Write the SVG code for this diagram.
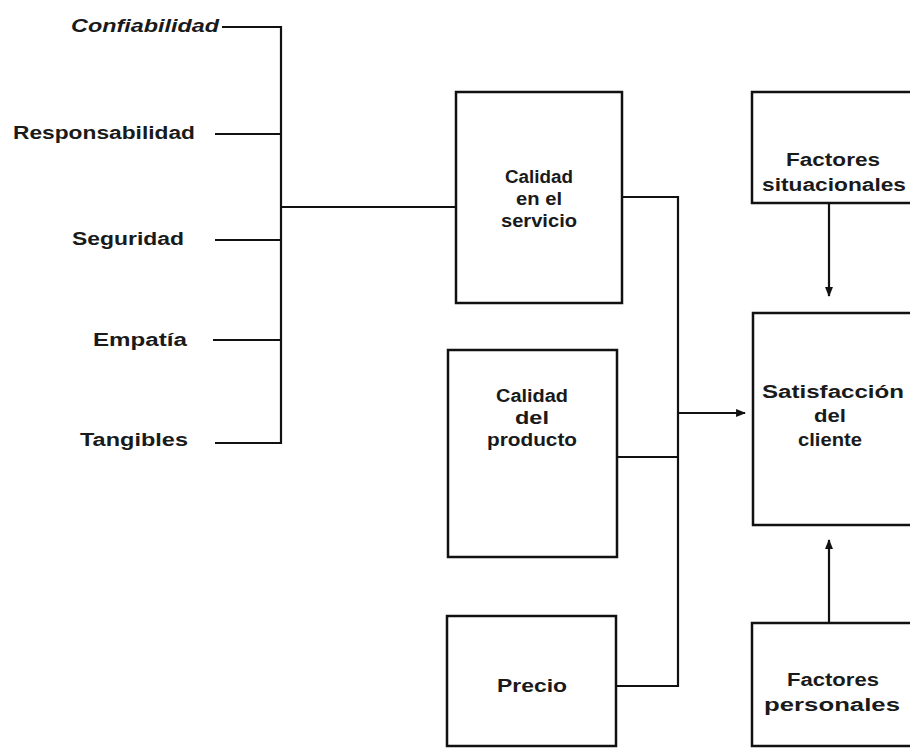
<svg xmlns="http://www.w3.org/2000/svg" width="910" height="754" viewBox="0 0 910 754">
<defs>
<style>
text{font-family:"Liberation Sans",Arial,sans-serif;font-size:18px;font-weight:bold;fill:#1a1a1a;}
.c{text-anchor:middle;}
.box{fill:#fff;stroke:#111;stroke-width:2.5;}
.ln{fill:none;stroke:#111;stroke-width:2.2;}
</style>
<marker id="ah" viewBox="0 0 10 10" refX="9" refY="5" markerWidth="4.5" markerHeight="4.5" orient="auto"><path d="M0,1 L10,5 L0,9 Z" fill="#111"/></marker>
</defs>
<rect width="910" height="754" fill="#fff"/>
<g id="connectors">
<path class="ln" d="M222,27 H281 V443 H215"/>
<path class="ln" d="M215,134 H281"/>
<path class="ln" d="M215,240 H281"/>
<path class="ln" d="M213,340 H281"/>
<path class="ln" d="M281,207 H456"/>
<path class="ln" d="M622,197 H678 V686 H616"/>
<path class="ln" d="M617,457 H678"/>
<path class="ln" d="M678,413 H745" marker-end="url(#ah)"/>
<path class="ln" d="M829,203 V296" marker-end="url(#ah)"/>
<path class="ln" d="M829,623 V540" marker-end="url(#ah)"/>
</g>
<g id="confiabilidad"><text x="145" y="32" class="c" font-style="italic" textLength="148" lengthAdjust="spacingAndGlyphs">Confiabilidad</text></g>
<g id="responsabilidad"><text x="104" y="139" class="c" textLength="182" lengthAdjust="spacingAndGlyphs">Responsabilidad</text></g>
<g id="seguridad"><text x="128" y="245" class="c" textLength="112" lengthAdjust="spacingAndGlyphs">Seguridad</text></g>
<g id="empatia"><text x="140" y="346" class="c" textLength="94" lengthAdjust="spacingAndGlyphs">Empatía</text></g>
<g id="tangibles"><text x="134" y="446" class="c" textLength="108" lengthAdjust="spacingAndGlyphs">Tangibles</text></g>
<g id="calidad-servicio"><rect class="box" x="456" y="92" width="166" height="211"/>
<text x="539" y="183" class="c" textLength="68" lengthAdjust="spacingAndGlyphs">Calidad</text><text x="539" y="205" class="c" textLength="46" lengthAdjust="spacingAndGlyphs">en el</text><text x="539" y="227" class="c" textLength="76" lengthAdjust="spacingAndGlyphs">servicio</text></g>
<g id="calidad-producto"><rect class="box" x="448" y="350" width="169" height="207"/>
<text x="532" y="402" class="c" textLength="72" lengthAdjust="spacingAndGlyphs">Calidad</text><text x="532" y="424" class="c" textLength="34" lengthAdjust="spacingAndGlyphs">del</text><text x="532" y="446" class="c" textLength="90" lengthAdjust="spacingAndGlyphs">producto</text></g>
<g id="precio"><rect class="box" x="447" y="616" width="169" height="130"/>
<text x="532" y="692" class="c" textLength="70" lengthAdjust="spacingAndGlyphs">Precio</text></g>
<g id="factores-situacionales"><rect class="box" x="752" y="92" width="170" height="111"/>
<text x="833" y="166" class="c" textLength="94" lengthAdjust="spacingAndGlyphs">Factores</text><text x="834" y="191" class="c" textLength="144" lengthAdjust="spacingAndGlyphs">situacionales</text></g>
<g id="satisfaccion"><rect class="box" x="753" y="313" width="170" height="212"/>
<text x="833" y="398" class="c" textLength="142" lengthAdjust="spacingAndGlyphs">Satisfacción</text><text x="830" y="422" class="c" textLength="32" lengthAdjust="spacingAndGlyphs">del</text><text x="830" y="446" class="c" textLength="64" lengthAdjust="spacingAndGlyphs">cliente</text></g>
<g id="factores-personales"><rect class="box" x="752" y="623" width="170" height="123"/>
<text x="833" y="686" class="c" textLength="92" lengthAdjust="spacingAndGlyphs">Factores</text><text x="832" y="711" class="c" textLength="136" lengthAdjust="spacingAndGlyphs">personales</text></g>
</svg>
